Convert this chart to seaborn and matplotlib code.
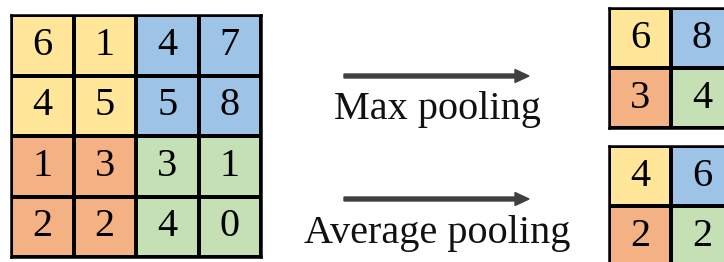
import matplotlib.pyplot as plt
import numpy as np
import seaborn as sns
from matplotlib.colors import ListedColormap

# values in the input feature map and the two pooled outputs
input_values = [[6, 1, 4, 7], [4, 5, 5, 8], [1, 3, 3, 1], [2, 2, 4, 0]]
max_values = [[6, 8], [3, 4]]
avg_values = [[4, 6], [2, 2]]
# which 2x2 pooling window each cell belongs to
input_regions = [[0, 0, 1, 1], [0, 0, 1, 1], [2, 2, 3, 3], [2, 2, 3, 3]]
output_regions = [[0, 1], [2, 3]]
labels = ["Max pooling", "Average pooling"]

REGION_COLORS = ["#FFE699", "#9DC3E6", "#F4B183", "#C5E0B4"]
W, H = 724, 262
FONT = "Liberation Serif"


def px_axes(fig, x0, y0, x1, y1):
    # axes placed in pixel coordinates measured from the top-left corner
    return fig.add_axes([x0 / W, (H - y1) / H, (x1 - x0) / W, (y1 - y0) / H])


def draw_grid(ax, values, regions):
    sns.heatmap(
        np.array(regions),
        annot=np.array(values),
        fmt="d",
        cmap=ListedColormap(REGION_COLORS),
        vmin=-0.5,
        vmax=3.5,
        cbar=False,
        linewidths=1.6,
        linecolor="black",
        xticklabels=False,
        yticklabels=False,
        annot_kws={"fontsize": 29, "color": "black", "fontfamily": FONT},
        ax=ax,
    )
    for spine in ax.spines.values():
        spine.set_visible(True)
        spine.set_linewidth(1.8)
        spine.set_color("black")


def main() -> None:
    sns.set_theme(style="white")
    plt.rcParams["font.family"] = [FONT, "DejaVu Serif"]
    fig = plt.figure(figsize=(W / 100, H / 100), dpi=100)

    overlay = fig.add_axes([0, 0, 1, 1])
    overlay.set_xlim(0, W)
    overlay.set_ylim(H, 0)
    overlay.axis("off")

    for y, label, ty in [(76, labels[0], 109), (199, labels[1], 233)]:
        overlay.arrow(344, y, 185, 0, width=4, head_width=13, head_length=14,
                      length_includes_head=True, color="#404040")
        overlay.text(437, ty, label, ha="center", va="center",
                     fontsize=29, fontfamily=FONT, color="#111111")

    draw_grid(px_axes(fig, 11, 15, 261, 257), input_values, input_regions)
    draw_grid(px_axes(fig, 609, 8, 733, 128), max_values, output_regions)
    draw_grid(px_axes(fig, 609, 146, 733, 266), avg_values, output_regions)

    fig.savefig("out.png", dpi=100)


if __name__ == "__main__":
    main()
